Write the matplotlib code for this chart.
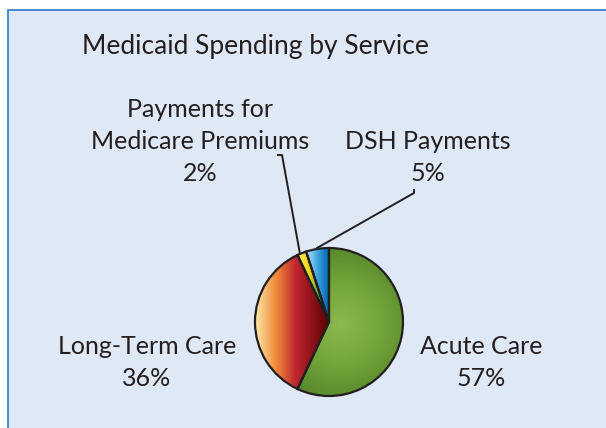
import numpy as np
import matplotlib
matplotlib.use("Agg")
import matplotlib.pyplot as plt
from matplotlib.patches import Rectangle
from matplotlib.colors import LinearSegmentedColormap

# data
services = ["Acute Care", "Long-Term Care", "Payments for\nMedicare Premiums", "DSH Payments"]
shares = [57, 36, 2, 5]
pct_labels = ["57%", "36%", "2%", "5%"]

W, H = 606, 428
plt.rcParams['font.family'] = ['Lato', 'DejaVu Sans']

fig = plt.figure(figsize=(W / 100, H / 100), dpi=100)
ax = fig.add_axes([0, 0, 1, 1])

def Y(py):
    # pixel row from top -> data y
    return H - py

# pie
cx, cy, r = 329, Y(322), 74
wedges, _ = ax.pie(shares, startangle=90, counterclock=False, center=(cx, cy), radius=r,
                   wedgeprops=dict(facecolor='none', edgecolor='#231f20', linewidth=1.6),
                   frame=True)
ax.set_xlim(0, W)
ax.set_ylim(0, H)
ax.set_aspect('equal')
ax.axis('off')
for w in wedges:
    w.set_zorder(3)

# light blue panel with border
ax.add_patch(Rectangle((8, -5), W, Y(10) + 5, facecolor='#dfe9f5',
                       edgecolor='#3c82c8', linewidth=1.3, zorder=0))

ax.text(255, Y(46), "Medicaid Spending by Service", ha='center', va='center',
        fontsize=19, color='#231f20')

# gradient fills clipped to each wedge
ext = [cx - r, cx + r, cy - r, cy + r]
xs = np.linspace(cx - r, cx + r, 300)
ys = np.linspace(cy - r, cy + r, 300)
XX, YY = np.meshgrid(xs, ys)

green = LinearSegmentedColormap.from_list('g', ['#8cb850', '#73a53a', '#57852a'])
dist = np.hypot(XX - (cx + 12), YY - (cy - 2)) / r
img = ax.imshow(dist, extent=ext, origin='lower', cmap=green, vmin=0, vmax=1.1, zorder=2)
img.set_clip_path(wedges[0])

red = LinearSegmentedColormap.from_list('r', [(0, '#fde9a6'), (0.28, '#f08a3c'),
                                              (0.55, '#c02530'), (1, '#5a0000')])
img = ax.imshow(XX, extent=ext, origin='lower', cmap=red, vmin=cx - r, vmax=cx, zorder=2)
img.set_clip_path(wedges[1])

yel = LinearSegmentedColormap.from_list('y', ['#ffe84a', '#f0d020', '#1a9a50'])
img = ax.imshow(XX, extent=ext, origin='lower', cmap=yel, vmin=cx - 30, vmax=cx - 8, zorder=2)
img.set_clip_path(wedges[2])

blue = LinearSegmentedColormap.from_list('b', ['#d0ecfa', '#40a8e0', '#0062b4'])
img = ax.imshow(XX, extent=ext, origin='lower', cmap=blue, vmin=cx - 24, vmax=cx, zorder=2)
img.set_clip_path(wedges[3])

# leader lines
ax.plot([300, 282, 278], [Y(254), Y(155), Y(155)], color='#231f20', lw=1.4, zorder=4)
ax.plot([317, 414, 414], [Y(248), Y(193), Y(190)], color='#231f20', lw=1.4, zorder=4)

# labels
lab_pos = [(481, 346), (147, 346), (200, 109), (428, 141)]
fs = 18
for name, pct, (lx, ly) in zip(services, pct_labels, lab_pos):
    lines = name.split("\n") + [pct]
    for k, t in enumerate(lines):
        ax.text(lx, Y(ly + 32 * k), t, ha='center', va='center', fontsize=fs,
                color='#231f20', zorder=5)

fig.savefig("out.png", dpi=100, facecolor='white')
